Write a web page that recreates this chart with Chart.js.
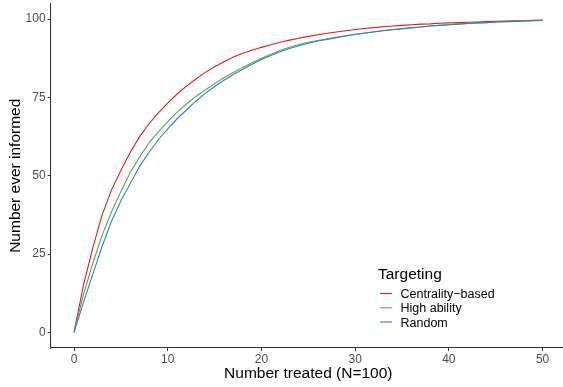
<!DOCTYPE html>
<html><head><meta charset="utf-8">
<script src="https://cdn.jsdelivr.net/npm/chart.js@4/dist/chart.umd.min.js"></script>
<style>
html,body{margin:0;padding:0;background:#fff;overflow:hidden;width:563px;height:387px}
#wrap{position:absolute;left:0;top:0;width:566px;height:387px}
</style>
</head><body><div id="wrap"><canvas id="c" width="566" height="387"></canvas></div>
<script>
const xValues = Array.from({length: 51}, (_, i) => i);
const centralityBased = [0,15,27,37.5,45.5,51.7,57.5,62.5,66.6,70.1,73.2,76.1,78.6,80.9,83,84.8,86.4,87.9,89.1,90.1,91,91.8,92.6,93.3,93.9,94.5,95,95.5,95.9,96.3,96.7,97,97.3,97.6,97.8,98,98.2,98.4,98.5,98.7,98.8,98.9,99,99.1,99.2,99.3,99.4,99.5,99.5,99.6,99.7];
const highAbility = [0,12,22,31,38.5,45,51,56,60.5,64,67.3,70.3,72.9,75.3,77.4,79.4,81.3,83,84.6,86.1,87.5,88.8,90,91,91.9,92.6,93.2,93.7,94.2,94.7,95.2,95.6,96,96.4,96.7,97,97.3,97.5,97.8,98,98.2,98.4,98.6,98.8,98.9,99.1,99.2,99.3,99.4,99.5,99.6];
const randomTargeting = [0,9.5,18.5,27.5,35.5,42,47.5,53,57.5,61.5,65,68.2,71,73.8,76.3,78.5,80.5,82.3,84,85.6,87.1,88.4,89.6,90.6,91.5,92.3,93,93.5,94.1,94.6,95.1,95.5,95.9,96.3,96.6,96.9,97.2,97.5,97.8,98,98.2,98.4,98.6,98.8,98.9,99.1,99.2,99.3,99.4,99.5,99.6];
const seriesLabels = ["Centrality\u2212based", "High ability", "Random"];
const seriesColors = ["#E41A1C", "#4DAF4A", "#377EB8"];
const xTicks = [0, 10, 20, 30, 40, 50];
const yTicks = [0, 25, 50, 75, 100];
const legendTitle = "Targeting";
const xTitle = "Number treated (N=100)";
const yTitle = "Number ever informed";

const FONT = "'Liberation Sans', Arial, Helvetica, sans-serif";
const allSeries = [centralityBased, highAbility, randomTargeting];

const datasets = allSeries.map((vals, k) => ({
  label: seriesLabels[k],
  data: xValues.map((x, i) => ({x: x, y: vals[i]})),
  borderColor: seriesColors[k],
  backgroundColor: seriesColors[k],
  borderWidth: 1.1,
  pointRadius: 0,
  tension: 0,
  fill: false,
  order: allSeries.length - k
}));

const annotPlugin = {
  id: 'titlesAndLegend',
  afterDraw(chart) {
    const ctx = chart.ctx;
    const area = chart.chartArea;
    ctx.save();
    ctx.fillStyle = '#000';
    // axis titles
    ctx.font = '15.5px ' + FONT;
    ctx.textAlign = 'center';
    ctx.textBaseline = 'alphabetic';
    ctx.fillText(xTitle, (area.left + area.right) / 2, 378);
    ctx.save();
    ctx.translate(20, (area.top + area.bottom) / 2);
    ctx.rotate(-Math.PI / 2);
    ctx.fillText(yTitle, 0, 0);
    ctx.restore();
    // legend
    ctx.textAlign = 'left';
    ctx.font = '15.5px ' + FONT;
    ctx.fillText(legendTitle, 378, 278.5);
    const ys = [293.5, 307.8, 322];
    chart.data.datasets.forEach((ds, i) => {
      ctx.strokeStyle = ds.borderColor;
      ctx.lineWidth = 1.1;
      ctx.beginPath();
      ctx.moveTo(380, ys[i]);
      ctx.lineTo(392, ys[i]);
      ctx.stroke();
      ctx.fillStyle = '#000';
      ctx.font = '12.5px ' + FONT;
      ctx.fillText(ds.label, 400.5, ys[i] + 4.6);
    });
    ctx.restore();
  }
};

new Chart(document.getElementById('c'), {
  type: 'line',
  data: { datasets },
  plugins: [annotPlugin],
  options: {
    responsive: false,
    animation: false,
    devicePixelRatio: 1,
    layout: { padding: { top: 3.5, right: 0, left: 0, bottom: 0 } },
    plugins: { legend: { display: false }, tooltip: { enabled: false } },
    scales: {
      x: {
        type: 'linear', min: -2.5, max: 52.5,
        afterBuildTicks: s => { s.ticks = xTicks.map(v => ({value: v})); },
        afterFit: s => { s.height = 387 - 348; s.paddingLeft = 0; s.paddingRight = 0; },
        ticks: { color: '#4D4D4D', font: { family: FONT, size: 12 }, padding: 1, maxRotation: 0, autoSkip: false },
        grid: { drawOnChartArea: false, drawTicks: true, tickLength: 3, tickColor: '#333333', tickWidth: 1.07 },
        border: { display: true, color: '#333333', width: 1.07 },
        title: { display: false, text: xTitle }
      },
      y: {
        type: 'linear', min: -5, max: 105,
        afterBuildTicks: s => { s.ticks = yTicks.map(v => ({value: v})); },
        afterFit: s => { s.width = 50.6; s.paddingTop = 0; s.paddingBottom = 0; },
        ticks: { color: '#4D4D4D', font: { family: FONT, size: 12 }, padding: 2, autoSkip: false },
        grid: { drawOnChartArea: false, drawTicks: true, tickLength: 3, tickColor: '#333333', tickWidth: 1.07 },
        border: { display: true, color: '#333333', width: 1.07 },
        title: { display: false, text: yTitle }
      }
    }
  }
});
</script>
</body></html>
